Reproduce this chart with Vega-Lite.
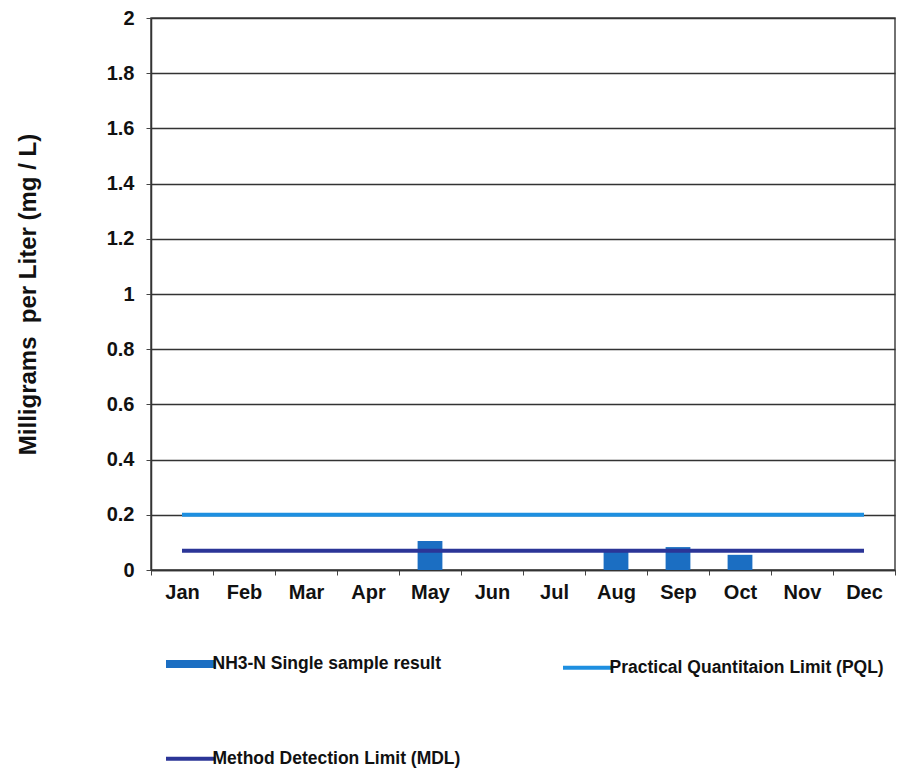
{
  "$schema": "https://vega.github.io/schema/vega-lite/v6.json",
  "width": 744,
  "height": 552,
  "autosize": "none",
  "padding": {"left": 151, "top": 18, "right": 2, "bottom": 200},
  "background": "white",
  "config": {
    "font": "Liberation Sans",
    "view": {"stroke": "#444", "strokeWidth": 1.5}
  },
  "datasets": {
    "samples": [
      {"month": "May", "series": "NH3-N Single sample result", "value": 0.105},
      {"month": "Aug", "series": "NH3-N Single sample result", "value": 0.068},
      {"month": "Sep", "series": "NH3-N Single sample result", "value": 0.083},
      {"month": "Oct", "series": "NH3-N Single sample result", "value": 0.055}
    ],
    "limits": [
      {"series": "Practical Quantitaion Limit (PQL)", "value": 0.2, "start": "Jan", "end": "Dec"},
      {"series": "Method Detection Limit (MDL)", "value": 0.07, "start": "Jan", "end": "Dec"}
    ]
  },
  "encoding": {
    "x": {
      "field": "month",
      "type": "nominal",
      "sort": ["Jan", "Feb", "Mar", "Apr", "May", "Jun", "Jul", "Aug", "Sep", "Oct", "Nov", "Dec"],
      "scale": {
        "domain": ["Jan", "Feb", "Mar", "Apr", "May", "Jun", "Jul", "Aug", "Sep", "Oct", "Nov", "Dec"],
        "paddingInner": 0,
        "paddingOuter": 0
      },
      "axis": {
        "title": null,
        "labelAngle": 0,
        "labelFont": "Liberation Sans",
        "labelFontWeight": "bold",
        "labelFontSize": 20,
        "labelColor": "#111",
        "labelPadding": 7,
        "tickBand": "extent",
        "tickSize": 5,
        "tickColor": "#444",
        "domainColor": "#333",
        "domainWidth": 1.5
      }
    }
  },
  "layer": [
    {
      "data": {"name": "samples"},
      "mark": {"type": "bar", "color": "#1b6ec2", "width": {"band": 0.4}},
      "encoding": {
        "y": {
          "field": "value",
          "type": "quantitative",
          "scale": {"domain": [0, 2], "nice": false},
          "axis": {
            "title": "Milligrams\u00a0 per Liter (mg / L)",
            "titleFont": "Liberation Sans",
            "titleFontWeight": "bold",
            "titleFontSize": 24,
            "titleColor": "#111",
            "titlePadding": 66,
            "values": [0, 0.2, 0.4, 0.6, 0.8, 1, 1.2, 1.4, 1.6, 1.8, 2],
            "format": ".1~f",
            "labelFont": "Liberation Sans",
            "labelFontWeight": "bold",
            "labelFontSize": 20,
            "labelColor": "#111",
            "labelPadding": 12,
            "tickSize": 5,
            "tickColor": "#444",
            "domainColor": "#333",
            "domainWidth": 1.5,
            "grid": true,
            "gridColor": "#333",
            "gridWidth": 1.3,
            "gridOpacity": 1
          }
        },
        "color": {
          "field": "series",
          "type": "nominal",
          "scale": {
            "domain": ["NH3-N Single sample result", "Practical Quantitaion Limit (PQL)", "Method Detection Limit (MDL)"],
            "range": ["#1b6ec2", "#1e8fe0", "#2b3597"]
          },
          "legend": {
            "title": null,
            "orient": "none",
            "legendX": 31,
            "legendY": 637,
            "direction": "horizontal",
            "columns": 2,
            "columnPadding": 94,
            "rowPadding": 69,
            "symbolType": "stroke",
            "symbolSize": 2450,
            "labelFont": "Liberation Sans",
            "labelFontWeight": "bold",
            "labelFontSize": 17.5,
            "labelColor": "#111",
            "labelOffset": 13,
            "labelLimit": 400,
            "encode": {
              "symbols": {
                "update": {
                  "stroke": {"scale": "color", "field": "value"},
                  "strokeWidth": {"signal": "datum.value === 'NH3-N Single sample result' ? 8 : 4"},
                  "strokeOpacity": {"value": 1}
                }
              }
            }
          }
        }
      }
    },
    {
      "data": {"name": "limits"},
      "mark": {"type": "rule", "strokeWidth": 4},
      "encoding": {
        "x": {"field": "start", "type": "nominal"},
        "x2": {"field": "end"},
        "y": {"field": "value", "type": "quantitative"},
        "color": {"field": "series", "type": "nominal"}
      }
    }
  ]
}
